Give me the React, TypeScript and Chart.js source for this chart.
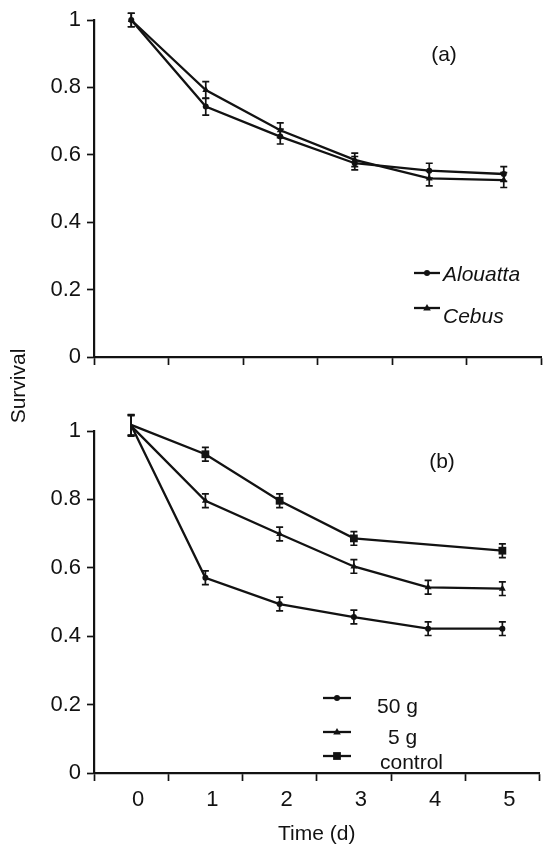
import { useEffect, useRef } from 'react';
import { Chart, registerables } from 'chart.js';

Chart.register(...registerables);

// Days after start
const days = ['0', '1', '2', '3', '4', '5'];
const yTickValues = [0, 0.2, 0.4, 0.6, 0.8, 1];

// Panel (a): survival by host genus
const alouatta = [1.0, 0.743, 0.654, 0.575, 0.553, 0.543];
const alouattaErr = [0.02, 0.025, 0.022, 0.02, 0.022, 0.022];
const cebus = [1.0, 0.792, 0.673, 0.585, 0.53, 0.525];
const cebusErr = [0.02, 0.025, 0.022, 0.02, 0.022, 0.022];

// Panel (b): survival by treatment
const g50 = [1.017, 0.571, 0.494, 0.456, 0.422, 0.422];
const g50Err = [0.03, 0.02, 0.02, 0.02, 0.02, 0.02];
const g5 = [1.015, 0.796, 0.699, 0.604, 0.543, 0.539];
const g5Err = [0.03, 0.02, 0.02, 0.02, 0.02, 0.02];
const control = [1.018, 0.932, 0.796, 0.686, null, 0.65];
const controlErr = [0.03, 0.02, 0.02, 0.02, 0, 0.02];

const FONT = '"Liberation Sans", Arial, Helvetica, sans-serif';
const INK = '#121212';
const FONT_SIZE = 21;
const TICK_SIZE = 22;

function drawMarker(ctx: CanvasRenderingContext2D, style: string, x: number, y: number, r: number) {
  ctx.beginPath();
  if (style === 'triangle') {
    ctx.moveTo(x, y - r);
    ctx.lineTo(x + r * 0.95, y + r * 0.6);
    ctx.lineTo(x - r * 0.95, y + r * 0.6);
    ctx.closePath();
  } else if (style === 'rect') {
    const s = r * Math.SQRT1_2;
    ctx.rect(x - s, y - s, 2 * s, 2 * s);
  } else {
    ctx.arc(x, y, r, 0, Math.PI * 2);
  }
  ctx.fill();
}

const errorBars = {
  id: 'errorBars',
  afterDatasetsDraw(chart: any) {
    const { ctx } = chart;
    const y = chart.scales.y;
    chart.data.datasets.forEach((ds: any, i: number) => {
      const errs: number[] | undefined = ds.errors;
      if (!errs) return;
      const meta = chart.getDatasetMeta(i);
      meta.data.forEach((pt: any, j: number) => {
        const v = ds.data[j];
        if (v == null || !errs[j]) return;
        const top = y.getPixelForValue(v + errs[j]);
        const bot = y.getPixelForValue(v - errs[j]);
        ctx.save();
        ctx.strokeStyle = INK;
        ctx.lineWidth = 1.7;
        ctx.beginPath();
        ctx.moveTo(pt.x, top);
        ctx.lineTo(pt.x, bot);
        ctx.moveTo(pt.x - 3.5, top);
        ctx.lineTo(pt.x + 3.5, top);
        ctx.moveTo(pt.x - 3.5, bot);
        ctx.lineTo(pt.x + 3.5, bot);
        ctx.stroke();
        ctx.restore();
      });
    });
  },
};

type Note = { text: string; x: number; y: number; align?: CanvasTextAlign };
type Key = { ds: number; x1: number; x2: number; y: number; textX: number; textY: number; italic?: boolean };

function notesPlugin(notes: Note[], keys: Key[]) {
  return {
    id: 'panelNotes',
    afterDraw(chart: any) {
      const ctx: CanvasRenderingContext2D = chart.ctx;
      ctx.save();
      ctx.fillStyle = INK;
      ctx.strokeStyle = INK;
      keys.forEach((k) => {
        const ds = chart.data.datasets[k.ds];
        ctx.lineWidth = 2.3;
        ctx.beginPath();
        ctx.moveTo(k.x1, k.y);
        ctx.lineTo(k.x2, k.y);
        ctx.stroke();
        drawMarker(ctx, ds.pointStyle, (k.x1 + k.x2) / 2, k.y, ds.pointRadius);
        ctx.font = `${k.italic ? 'italic ' : ''}${FONT_SIZE}px ${FONT}`;
        ctx.textAlign = 'left';
        ctx.textBaseline = 'middle';
        ctx.fillText(ds.label, k.textX, k.textY);
      });
      notes.forEach((n) => {
        ctx.font = `${FONT_SIZE}px ${FONT}`;
        ctx.textAlign = n.align ?? 'center';
        ctx.textBaseline = 'middle';
        ctx.fillText(n.text, n.x, n.y);
      });
      ctx.restore();
    },
  };
}

function series(label: string, data: (number | null)[], errors: number[], pointStyle: string, pointRadius: number) {
  return {
    label,
    data,
    errors,
    pointStyle,
    pointRadius,
    pointBorderWidth: 0,
    borderColor: INK,
    backgroundColor: INK,
    pointBackgroundColor: INK,
    borderWidth: 2.3,
    tension: 0,
    spanGaps: true,
    clip: false,
  };
}

function panelConfig(
  datasets: any[],
  topPad: number,
  xAxisHeight: number,
  showX: boolean,
  notes: Note[],
  keys: Key[],
): any {
  return {
    type: 'line',
    data: { labels: days, datasets },
    options: {
      responsive: false,
      maintainAspectRatio: false,
      animation: false,
      layout: { padding: { top: topPad, left: 0, right: 0, bottom: 0 } },
      plugins: { legend: { display: false }, tooltip: { enabled: false } },
      scales: {
        x: {
          type: 'category',
          offset: true,
          grid: {
            offset: true,
            drawOnChartArea: false,
            drawTicks: true,
            tickLength: 8,
            tickColor: INK,
            tickWidth: 1.7,
          },
          border: { display: true, color: INK, width: 2.2 },
          ticks: {
            color: INK,
            font: { family: FONT, size: TICK_SIZE },
            padding: 6,
            labelOffset: 7,
            maxRotation: 0,
            autoSkip: false,
            callback: function (this: any, _v: any, i: number) {
              return showX ? days[i] : '';
            },
          },
          title: showX
            ? {
                display: true,
                text: 'Time (d)',
                color: INK,
                font: { family: FONT, size: FONT_SIZE },
                padding: { top: 0, bottom: 1 },
              }
            : { display: false },
          afterFit: (s: any) => {
            s.height = xAxisHeight;
          },
        },
        y: {
          type: 'linear',
          min: 0,
          max: 1,
          afterBuildTicks: (s: any) => {
            s.ticks = yTickValues.map((v) => ({ value: v }));
          },
          grid: {
            drawOnChartArea: false,
            drawTicks: true,
            tickLength: 7,
            tickColor: INK,
            tickWidth: 1.7,
          },
          border: { display: true, color: INK, width: 2.2 },
          ticks: {
            color: INK,
            font: { family: FONT, size: TICK_SIZE },
            padding: 6,
            callback: (v: number) => String(v),
          },
          afterFit: (s: any) => {
            s.width = 94;
          },
        },
      },
    },
    plugins: [errorBars, notesPlugin(notes, keys)],
  };
}

export default function App() {
  const aRef = useRef<HTMLCanvasElement>(null);
  const bRef = useRef<HTMLCanvasElement>(null);

  useEffect(() => {
    const a = new Chart(
      aRef.current as HTMLCanvasElement,
      panelConfig(
        [
          series('Alouatta', alouatta, alouattaErr, 'circle', 3),
          series('Cebus', cebus, cebusErr, 'triangle', 4),
        ],
        20,
        33,
        false,
        [{ text: '(a)', x: 444, y: 55 }],
        [
          { ds: 0, x1: 414, x2: 440, y: 273, textX: 443, textY: 275, italic: true },
          { ds: 1, x1: 414, x2: 440, y: 308, textX: 443, textY: 317, italic: true },
        ],
      ),
    );
    const b = new Chart(
      bRef.current as HTMLCanvasElement,
      panelConfig(
        [
          series('50 g', g50, g50Err, 'circle', 3),
          series('5 g', g5, g5Err, 'triangle', 4),
          series('control', control, controlErr, 'rect', 5.5),
        ],
        41,
        75,
        true,
        [{ text: '(b)', x: 442, y: 72 }],
        [
          { ds: 0, x1: 323, x2: 351, y: 308, textX: 377, textY: 317 },
          { ds: 1, x1: 323, x2: 351, y: 342, textX: 388, textY: 348 },
          { ds: 2, x1: 323, x2: 351, y: 366, textX: 380, textY: 373 },
        ],
      ),
    );
    return () => {
      a.destroy();
      b.destroy();
    };
  }, []);

  return (
    <div
      style={{
        position: 'absolute',
        left: 0,
        top: 0,
        width: 545,
        height: 848,
        background: '#fff',
        overflow: 'hidden',
      }}
    >
      <canvas ref={aRef} width={545} height={390} style={{ position: 'absolute', left: 0, top: 0 }} />
      <canvas ref={bRef} width={545} height={458} style={{ position: 'absolute', left: 0, top: 390 }} />
      <div
        style={{
          position: 'absolute',
          left: -32,
          top: 374,
          width: 100,
          height: 24,
          lineHeight: '24px',
          textAlign: 'center',
          transform: 'rotate(-90deg)',
          font: `${FONT_SIZE}px ${FONT}`,
          color: INK,
        }}
      >
        Survival
      </div>
    </div>
  );
}
